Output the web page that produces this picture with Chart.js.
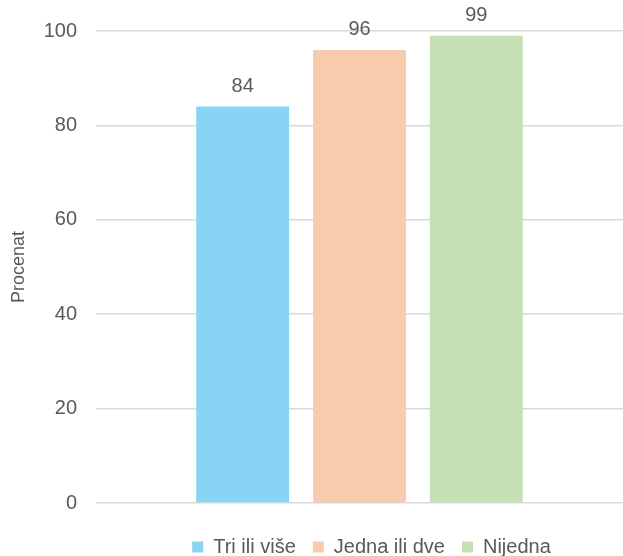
<!DOCTYPE html>
<html>
<head>
<meta charset="utf-8">
<script src="https://cdn.jsdelivr.net/npm/chart.js@4.4.1/dist/chart.umd.min.js"></script>
<style>
  html, body { margin:0; padding:0; background:#fff; }
  #wrap { width:623px; height:556px; position:relative; }
</style>
</head>
<body>
<div id="wrap"><canvas id="c"></canvas></div>
<script>
// podaci
const categories = [''];
const seriesNames = ['Tri ili više', 'Jedna ili dve', 'Nijedna'];
const seriesValues = [84, 96, 99];
const seriesColors = ['#89d3f5', '#f8cbad', '#c5e0b4'];
const yTicks = [0, 20, 40, 60, 80, 100];

const FONT = '"Liberation Sans", Arial, sans-serif';
const GREY = '#595959';

// vrednosti iznad stubova
const valueLabels = {
  id: 'valueLabels',
  afterDatasetsDraw(chart){
    const ctx = chart.ctx;
    ctx.save();
    ctx.font = '20px ' + FONT;
    ctx.fillStyle = GREY;
    ctx.textAlign = 'center';
    ctx.textBaseline = 'bottom';
    chart.data.datasets.forEach((ds, i) => {
      const meta = chart.getDatasetMeta(i);
      meta.data.forEach((bar, j) => {
        ctx.fillText(String(ds.data[j]), bar.x, bar.y - 10);
      });
    });
    ctx.restore();
  }
};

// legenda: visina i položaj kao u originalu
const legendTweak = {
  id: 'legendTweak',
  beforeInit(chart){
    const fit = chart.legend.fit;
    chart.legend.fit = function(){
      fit.call(this);
      this.height -= 2;
    };
  },
  afterLayout(chart){
    const lg = chart.legend;
    const h = lg.bottom - lg.top;
    lg.left += 56;
    lg.right += 56;
    lg.top = 520;
    lg.bottom = 520 + h;
  }
};

new Chart(document.getElementById('c'), {
  type: 'bar',
  data: {
    labels: categories,
    datasets: seriesNames.map((name, i) => ({
      label: name,
      data: [seriesValues[i]],
      backgroundColor: seriesColors[i],
      borderWidth: 0,
      categoryPercentage: 0.665,
      barPercentage: 0.795
    }))
  },
  options: {
    responsive: true,
    maintainAspectRatio: false,
    animation: false,
    layout: { padding: { top: 28, right: 0, bottom: 0, left: 8 } },
    scales: {
      x: {
        grid: { display: false },
        border: { display: false },
        ticks: { display: false }
      },
      y: {
        min: 0, max: 100,
        afterBuildTicks: axis => { axis.ticks = yTicks.map(v => ({ value: v })); },
        grid: { color: '#d9d9d9', lineWidth: 1.5, drawTicks: false },
        border: { display: false },
        ticks: { color: GREY, font: { family: FONT, size: 20 }, padding: 19 },
        title: { display: true, text: 'Procenat', color: GREY, font: { family: FONT, size: 18 }, padding: { top: 0, bottom: 10 } },
        afterFit: axis => { axis.width = 88; }
      }
    },
    plugins: {
      legend: {
        position: 'bottom',
        labels: {
          color: GREY,
          font: { family: FONT, size: 20 },
          boxWidth: 11, boxHeight: 11,
          padding: 17
        }
      },
      tooltip: { enabled: false }
    }
  },
  plugins: [valueLabels, legendTweak]
});
</script>
</body>
</html>
